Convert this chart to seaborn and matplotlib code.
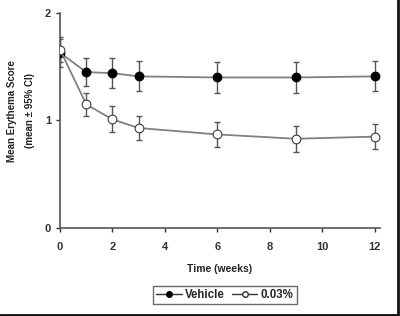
import numpy as np
import pandas as pd
import matplotlib
matplotlib.use('Agg')
import matplotlib.pyplot as plt
from matplotlib.lines import Line2D
import seaborn as sns

# Values.

weeks = [0, 1, 2, 3, 6, 9, 12]
vehicle_mean = [1.63, 1.45, 1.44, 1.41, 1.40, 1.40, 1.41]
vehicle_ci = [0.13, 0.13, 0.14, 0.14, 0.14, 0.14, 0.14]
drug_mean = [1.66, 1.15, 1.01, 0.93, 0.87, 0.83, 0.85]
drug_ci = [0.12, 0.11, 0.12, 0.115, 0.115, 0.12, 0.115]

plot_data = pd.DataFrame({
    'week': weeks * 2,
    'score': vehicle_mean + drug_mean,
    'ci': vehicle_ci + drug_ci,
    'group': ['Vehicle'] * len(weeks) + ['0.03%'] * len(weeks),
})

sns.set_style('ticks')
plt.rcParams['font.family'] = ['Liberation Sans', 'DejaVu Sans']
plt.rcParams['font.weight'] = 'bold'

fig = plt.figure(figsize=(4, 3.16), dpi=100)
ax1 = fig.add_axes([0.15, 0.2785, 0.80, 0.6805])

# Error bars first, then lines and markers on top.
for grp in ['Vehicle', '0.03%']:
    sub = plot_data[plot_data['group'] == grp]
    ax1.errorbar(sub['week'], sub['score'], yerr=sub['ci'], fmt='none',
                 ecolor='#555555', elinewidth=1, capsize=2.5, capthick=1, zorder=2)

sns.lineplot(data=plot_data, x='week', y='score', hue='group', style='group',
             palette={'Vehicle': '#808080', '0.03%': '#808080'},
             markers={'Vehicle': 'o', '0.03%': 'o'}, dashes=False,
             markersize=6.3, linewidth=1.3, legend=False, ax=ax1, zorder=3)

# marker fills: filled black for vehicle, white for drug
lines = ax1.get_lines()
lines[-2].set_markerfacecolor('black')
lines[-2].set_markeredgecolor('black')
lines[-1].set_markerfacecolor('white')
lines[-1].set_markeredgecolor('#333333')

ax1.set_xlim(0, 12.2)
ax1.set_ylim(0, 2)
ax1.set_xticks([0, 2, 4, 6, 8, 10, 12])
ax1.set_yticks([0, 1, 2])
ax1.tick_params(labelsize=8, colors='#333333', length=3, width=1)
ax1.tick_params(axis='x', pad=7)
for sp in ['top', 'right']:
    ax1.spines[sp].set_visible(False)
for sp in ['left', 'bottom']:
    ax1.spines[sp].set_color('#555555')
    ax1.spines[sp].set_linewidth(1.2)
ax1.spines['bottom'].set_bounds(0, 12.2)

ax1.set_xlabel('Time (weeks)', fontsize=7.5, fontweight='bold', color='#222222', labelpad=9)
ax1.set_ylabel('Mean Erythema Score\n(mean ± 95% CI)', fontsize=7, fontweight='bold',
               color='#222222', linespacing=1.9, va='center', ha='center')
ax1.yaxis.set_label_coords(-0.122, 0.545)

handles = [
    Line2D([], [], color='#333333', lw=1, marker='o', markersize=4,
           markerfacecolor='black', markeredgecolor='black'),
    Line2D([], [], color='#333333', lw=1, marker='o', markersize=4,
           markerfacecolor='white', markeredgecolor='#333333'),
]
leg = fig.legend(handles, ['Vehicle', '0.03%'], loc='center', ncol=2,
                 bbox_to_anchor=(0.5625, 0.0665), fontsize=8.3, frameon=True,
                 fancybox=False, handlelength=2.2, handletextpad=0.3,
                 columnspacing=0.6, borderpad=0.3, borderaxespad=0)
leg.get_frame().set_edgecolor('#444444')
leg.get_frame().set_linewidth(1)

# dark frame edges on right and bottom of the picture
fig.add_artist(Line2D([0.995, 0.995], [0.003, 1], color='#111111', lw=2))
fig.add_artist(Line2D([0, 0.995], [0.004, 0.004], color='#111111', lw=2))

fig.savefig('out.png', dpi=100)
